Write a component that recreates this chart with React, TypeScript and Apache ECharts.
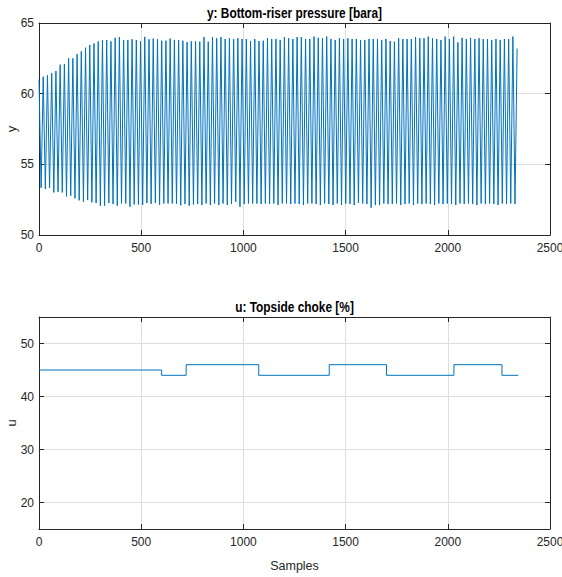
import React, { useEffect, useRef } from "react";
import * as echarts from "echarts";

// Top plot: bottom-riser pressure, per oscillation cycle
const CYCLE_SAMPLES = 20.7;
const peaks: number[] = [
  61.0, 61.2, 61.3, 61.45, 61.6, 62.05, 62.1, 62.5, 62.5, 62.8, 63.0, 63.25, 63.45, 63.55, 63.7, 63.78, 63.8, 63.7, 63.95, 64.0,
  63.8, 63.8, 63.85, 63.8, 63.7, 64.02, 63.85, 63.9, 63.85, 63.75, 63.75, 63.9, 63.8, 63.8, 63.75, 63.65, 63.7, 63.7,
  63.68, 64.0, 63.68, 64.0, 63.92, 64.0, 63.87, 63.92, 63.87, 63.92, 63.87, 63.87, 63.73, 63.87, 63.73, 63.75, 63.92, 63.87,
  63.87, 63.8, 64.0, 63.92, 63.87, 64.0, 64.0, 63.87, 63.87, 64.04, 63.95, 63.92, 64.04, 63.87, 63.8, 63.92, 63.87, 63.92,
  63.87, 63.87, 63.8,
  63.8, 63.87, 63.87, 63.87, 63.8, 63.87, 63.73, 63.68, 63.92, 63.87, 63.87, 63.87, 64.0, 63.92, 63.92, 64.04, 63.92, 63.87,
  63.8, 64.04, 63.87, 64.04, 63.63, 63.95, 63.87, 63.95, 63.87, 63.92, 63.87, 63.87, 63.8, 63.87, 63.8, 63.87, 63.87, 64.04,
  63.2,
];
const troughs: number[] = [
  53.34, 53.25, 53.34, 53.01, 53.06, 53.01, 52.73, 52.78, 52.59, 52.45, 52.35, 52.47, 52.31, 52.26, 52.07, 52.07, 52.26, 52.19,
  52.07, 52.23, 52.23, 52.0, 52.16, 52.16, 52.12, 52.26, 52.21, 52.26, 52.14, 52.23, 52.23, 52.23, 52.21, 52.1, 52.19, 52.07, 52.16,
  52.19, 52.12, 52.23, 52.12, 52.23, 52.12, 52.23, 52.12, 52.19, 52.35, 52.0, 52.19, 52.23, 52.23, 52.23, 52.19, 52.23, 52.19,
  52.23, 52.12, 52.23, 52.23, 52.19, 52.23, 52.19, 52.12, 52.23, 52.23, 52.19, 52.12, 52.23, 52.19, 52.12, 52.23, 52.12, 52.23,
  52.19, 52.12, 52.28,
  52.23, 52.19, 51.92, 52.12, 52.12, 52.23, 52.19, 52.19, 52.23, 52.12, 52.19, 52.23, 52.12, 52.23, 52.19, 52.23, 52.19, 52.12,
  52.23, 52.19, 52.23, 52.19, 52.12, 52.23, 52.19, 52.23, 52.19, 52.12, 52.23, 52.19, 52.23, 52.19, 52.12, 52.23, 52.19, 52.23, 52.19,
];

// Bottom plot: topside choke steps
const stepStarts: number[] = [0, 600, 720, 1075, 1420, 1700, 2030, 2265];
const stepValues: number[] = [45, 44, 46, 44, 46, 44, 46, 44];
const lastSample = 2345;

const xTicks = { min: 0, max: 2500, interval: 500 };

const FONT = "'Liberation Sans', Arial, Helvetica, sans-serif";
const TXT = "#262626";
const GRIDC = "#dedede";
const LINE = "#0072BD";

function buildY(): number[][] {
  const pts: number[][] = [];
  for (let i = 0; i < peaks.length; i++) {
    pts.push([i * CYCLE_SAMPLES, peaks[i]]);
    if (i < troughs.length) pts.push([(i + 0.5) * CYCLE_SAMPLES, troughs[i]]);
  }
  return pts;
}

function buildU(): number[][] {
  const pts: number[][] = stepStarts.map((s, i) => [s, stepValues[i]]);
  pts.push([lastSample, stepValues[stepValues.length - 1]]);
  return pts;
}

export default function App() {
  const ref = useRef<HTMLDivElement>(null);
  useEffect(() => {
    if (!ref.current) return;
    const chart = echarts.init(ref.current, null, { renderer: "svg" });
    const axisLine = { show: true, onZero: false, lineStyle: { color: TXT, width: 1 } };
    const tick = { show: true, inside: true, length: 5, lineStyle: { color: TXT } };
    const label = { color: TXT, fontSize: 12, fontFamily: FONT, formatter: (v: number) => String(v) };
    const split = { show: true, lineStyle: { color: GRIDC, width: 1 } };
    const mkX = (grid: number, main: boolean, name?: string) => ({
      type: "value",
      gridIndex: grid,
      position: main ? "bottom" : "top",
      ...xTicks,
      axisLine,
      axisTick: tick,
      axisLabel: main ? { ...label, margin: 7 } : { show: false },
      splitLine: main ? split : { show: false },
      name: name || "",
      nameLocation: "middle",
      nameGap: 30,
      nameMoveOverlap: false,
      nameTextStyle: { color: TXT, fontSize: 12.5, fontFamily: FONT },
    });
    const mkY = (grid: number, main: boolean, min: number, max: number, extra: any, name?: string) => ({
      type: "value",
      gridIndex: grid,
      position: main ? "left" : "right",
      min,
      max,
      ...extra,
      axisLine,
      axisTick: tick,
      axisLabel: main
        ? { ...label, margin: 5, showMinLabel: extra.interval ? true : false, showMaxLabel: extra.interval ? true : false }
        : { show: false },
      splitLine: main ? split : { show: false },
      name: name || "",
      nameLocation: "middle",
      nameGap: 21,
      nameMoveOverlap: false,
      nameTextStyle: { color: TXT, fontSize: 13, fontFamily: FONT },
    });
    chart.setOption({
      animation: false,
      backgroundColor: "#ffffff",
      grid: [
        { left: 39, top: 23, width: 511, height: 212, containLabel: false, outerBoundsMode: "none" },
        { left: 39, top: 317, width: 511, height: 212, containLabel: false, outerBoundsMode: "none" },
      ],
      xAxis: [mkX(0, true), mkX(0, false), mkX(1, true, "Samples"), mkX(1, false)],
      yAxis: [
        mkY(0, true, 50, 65, { interval: 5 }, "y"),
        mkY(0, false, 50, 65, { interval: 5 }),
        mkY(1, true, 15, 55, { splitNumber: 4 }, "u"),
        mkY(1, false, 15, 55, { splitNumber: 4 }),
      ],
      graphic: [
        {
          type: "text",
          x: 294.5,
          y: 13,
          scaleX: 0.85,
          style: { text: "y: Bottom-riser pressure [bara]", fill: "#000", font: `bold 14px ${FONT}`, textAlign: "center", textVerticalAlign: "middle" },
        },
        {
          type: "text",
          x: 294.5,
          y: 307,
          scaleX: 0.85,
          style: { text: "u: Topside choke [%]", fill: "#000", font: `bold 14px ${FONT}`, textAlign: "center", textVerticalAlign: "middle" },
        },
      ],
      series: [
        {
          type: "line",
          xAxisIndex: 0,
          yAxisIndex: 0,
          data: buildY(),
          showSymbol: false,
          lineStyle: { color: LINE, width: 1 },
        },
        {
          type: "line",
          xAxisIndex: 2,
          yAxisIndex: 2,
          data: buildU(),
          step: "end",
          showSymbol: false,
          lineStyle: { color: LINE, width: 1 },
        },
      ],
    });
    return () => chart.dispose();
  }, []);
  return <div ref={ref} style={{ position: "fixed", left: 0, top: 0, width: 562, height: 577 }} />;
}
